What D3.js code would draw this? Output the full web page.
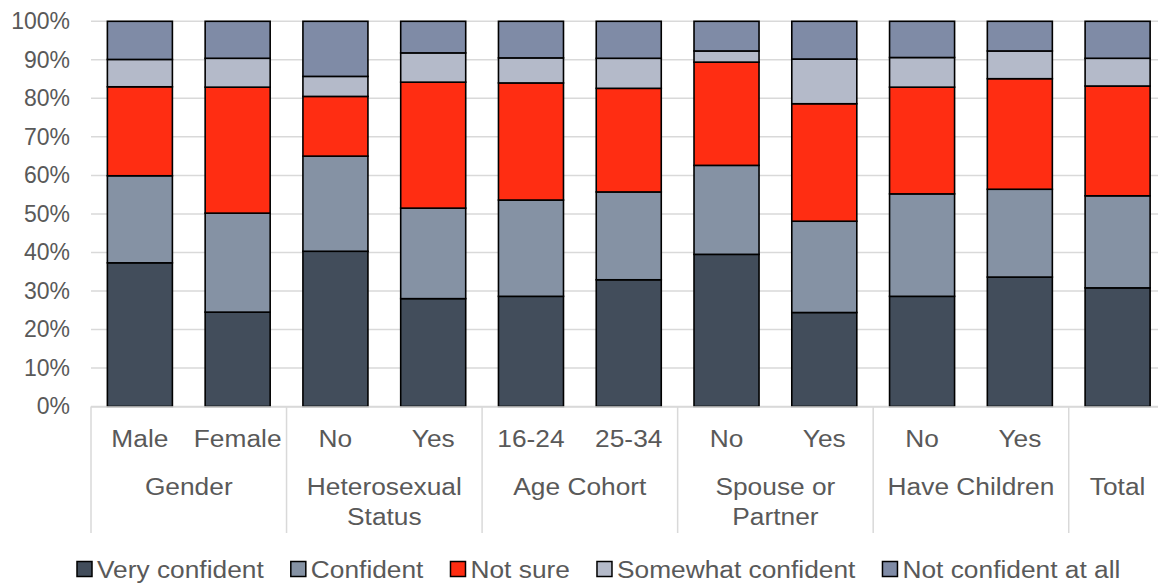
<!DOCTYPE html>
<html>
<head>
<meta charset="utf-8">
<script src="https://cdn.jsdelivr.net/npm/d3@7"></script>
<style>
  html, body { margin: 0; padding: 0; background: #fff; }
  svg { display: block; }
  text { font-family: "Liberation Sans", Arial, sans-serif; fill: #595959; }
</style>
</head>
<body>
<svg id="chart" width="1158" height="583"></svg>
<script>
// Bar labels (inner level) and their group (outer level)
const barLabels = ["Male", "Female", "No", "Yes", "16-24", "25-34", "No", "Yes", "No", "Yes", ""];
const barGroups = ["Gender", "Gender", "Heterosexual Status", "Heterosexual Status",
                   "Age Cohort", "Age Cohort", "Spouse or Partner", "Spouse or Partner",
                   "Have Children", "Have Children", "Total"];
const groupNames = ["Gender", "Heterosexual Status", "Age Cohort", "Spouse or Partner", "Have Children", "Total"];
const groupLines = {
  "Gender": ["Gender"],
  "Heterosexual Status": ["Heterosexual", "Status"],
  "Age Cohort": ["Age Cohort"],
  "Spouse or Partner": ["Spouse or", "Partner"],
  "Have Children": ["Have Children"],
  "Total": ["Total"]
};

// Series values, percent of respondents
const seriesNames = ["Very confident", "Confident", "Not sure", "Somewhat confident", "Not confident at all"];
const veryConfident      = [37.3, 24.5, 40.3, 28.0, 28.6, 32.9, 39.5, 24.4, 28.6, 33.6, 30.8];
const confident          = [22.6, 25.7, 24.7, 23.5, 25.0, 22.8, 23.1, 23.7, 26.6, 22.8, 23.9];
const notSure            = [23.1, 32.7, 15.5, 32.7, 30.4, 26.9, 26.8, 30.5, 27.7, 28.7, 28.5];
const somewhatConfident  = [ 7.1,  7.5,  5.2,  7.6,  6.5,  7.8,  2.9, 11.6,  7.7,  7.2,  7.2];
const notConfidentAtAll  = [ 9.9,  9.6, 14.3,  8.2,  9.5,  9.6,  7.7,  9.8,  9.4,  7.7,  9.6];
const yTicks = [0, 10, 20, 30, 40, 50, 60, 70, 80, 90, 100];

const colors = ["#424d5b", "#8592a4", "#ff2d12", "#b4bac9", "#7f8ba6"];
const seriesValues = [veryConfident, confident, notSure, somewhatConfident, notConfidentAtAll];

const svg = d3.select("#chart");
const plotLeft = 91, plotRight = 1166.5, plotTop = 21.3, plotBottom = 406.5;
const stretch = 1.12; // horizontal stretch of category and legend text

const ids = barLabels.map((d, i) => i);
const x = d3.scaleBand().domain(ids).range([plotLeft, plotRight])
  .paddingInner(0.335).paddingOuter(0.1675);
const y = d3.scaleLinear().domain([0, 100]).range([plotBottom, plotTop]);

// Horizontal gridlines
svg.append("g").selectAll("line").data(yTicks).join("line")
  .attr("x1", plotLeft).attr("x2", 1158)
  .attr("y1", d => y(d)).attr("y2", d => y(d))
  .attr("stroke", "#d9d9d9").attr("stroke-width", 1.5);

// Y axis labels
const yAxis = d3.axisLeft(y).tickValues(yTicks).tickFormat(d => d + "%").tickSize(0).tickPadding(21);
const gy = svg.append("g").attr("transform", `translate(${plotLeft},0)`).call(yAxis);
gy.select(".domain").remove();
gy.selectAll("text").attr("font-size", 23).attr("fill", "#595959")
  .style("font-family", "'Liberation Sans', Arial, sans-serif");

// Stacked bars
const table = ids.map(i => {
  const row = { id: i };
  seriesNames.forEach((s, k) => row[s] = seriesValues[k][i]);
  return row;
});
const stack = d3.stack().keys(seriesNames)(table);

svg.append("g").selectAll("g").data(stack).join("g")
  .attr("fill", (d, k) => colors[k])
  .selectAll("rect").data(d => d).join("rect")
  .attr("x", d => x(d.data.id))
  .attr("width", x.bandwidth())
  .attr("y", d => y(d[1]))
  .attr("height", d => y(d[0]) - y(d[1]))
  .attr("stroke", "#000").attr("stroke-width", 1.6);

// Category axis: baseline and group separators
const axisG = svg.append("g");
axisG.append("line").attr("x1", plotLeft).attr("x2", 1158)
  .attr("y1", plotBottom + 0.5).attr("y2", plotBottom + 0.5)
  .attr("stroke", "#d9d9d9").attr("stroke-width", 1.5);

const groupExtents = groupNames.map(g => {
  const members = ids.filter(i => barGroups[i] === g);
  const x0 = x(members[0]) - x.step() * x.paddingInner() / 2;
  const x1 = x(members[members.length - 1]) + x.bandwidth() + x.step() * x.paddingInner() / 2;
  return { name: g, x0, x1 };
});
const sepXs = groupExtents.map(d => d.x0).concat([groupExtents[groupExtents.length - 1].x1]);
axisG.selectAll("line.sep").data(sepXs).join("line").attr("class", "sep")
  .attr("x1", d => d).attr("x2", d => d)
  .attr("y1", plotBottom).attr("y2", 533)
  .attr("stroke", "#d9d9d9").attr("stroke-width", 1.5);

function stretchedText(sel, px, py) {
  return sel.attr("transform", `translate(${px},${py}) scale(${stretch},1)`);
}

// Inner-level labels
axisG.selectAll("text.bar").data(ids.filter(i => barLabels[i] !== "")).join("text").attr("class", "bar")
  .each(function(i) { stretchedText(d3.select(this), x(i) + x.bandwidth() / 2, 446.5); })
  .attr("text-anchor", "middle").attr("font-size", 23.5)
  .text(i => barLabels[i]);

// Outer-level labels
groupExtents.forEach(g => {
  groupLines[g.name].forEach((line, k) => {
    stretchedText(axisG.append("text"), (g.x0 + Math.min(g.x1, 1166.5)) / 2, 495 + k * 30)
      .attr("text-anchor", "middle").attr("font-size", 23.5).text(line);
  });
});

// Legend
const legend = svg.append("g");
const items = legend.selectAll("g").data(seriesNames).join("g");
items.append("rect").attr("width", 15).attr("height", 15).attr("y", 561.5)
  .attr("fill", (d, k) => colors[k]).attr("stroke", "#000").attr("stroke-width", 1.5);
items.append("text").attr("font-size", 23.5).text(d => d);
let cursor = 77;
items.each(function() {
  const g = d3.select(this);
  const t = g.select("text");
  const w = t.node().getComputedTextLength() * stretch;
  g.select("rect").attr("x", cursor);
  stretchedText(t, cursor + 20, 578);
  cursor += 20 + w + 27;
});
</script>
</body>
</html>
